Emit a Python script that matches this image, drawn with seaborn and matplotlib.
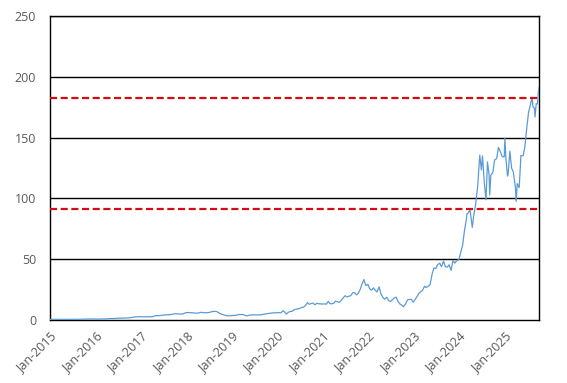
import matplotlib
matplotlib.use("Agg")
import matplotlib.pyplot as plt
import matplotlib.dates as mdates
import seaborn as sns
import pandas as pd

# ---- data (split-adjusted share price) ----
dates_monthly = pd.date_range("2015-01-01", "2019-12-01", freq="MS")
prices_monthly = [
    0.48, 0.55, 0.52, 0.55, 0.52, 0.50, 0.49, 0.56, 0.62, 0.70, 0.82, 0.82,
    0.73, 0.78, 0.89, 0.89, 1.17, 1.17, 1.43, 1.53, 1.71, 1.74, 2.33, 2.67,
    2.73, 2.52, 2.72, 2.60, 3.60, 3.61, 4.06, 4.23, 4.47, 5.17, 5.02, 4.84,
    6.14, 6.05, 5.79, 5.62, 6.31, 5.92, 6.12, 7.02, 7.03, 5.27, 4.09, 3.34,
    3.59, 3.85, 4.49, 4.52, 3.39, 4.11, 4.22, 4.19, 4.35, 5.03, 5.42, 5.88,
]

dates_recent = [
    "2020-01-01", "2020-01-15", "2020-02-01", "2020-02-19", "2020-03-01", "2020-03-16",
    "2020-04-01", "2020-04-15", "2020-05-01", "2020-05-15", "2020-06-01", "2020-06-15",
    "2020-07-01", "2020-07-15", "2020-08-01", "2020-08-15", "2020-09-02", "2020-09-15",
    "2020-10-01", "2020-10-15", "2020-11-01", "2020-11-15", "2020-12-01", "2020-12-15",
    "2021-01-01", "2021-01-15", "2021-02-01", "2021-02-16", "2021-03-01", "2021-03-15",
    "2021-04-01", "2021-04-15", "2021-05-01", "2021-05-15", "2021-06-01", "2021-06-15",
    "2021-07-01", "2021-07-15", "2021-08-01", "2021-08-15", "2021-09-01", "2021-09-15",
    "2021-10-01", "2021-10-15", "2021-11-01", "2021-11-15", "2021-11-29", "2021-12-15",
    "2022-01-01", "2022-01-15", "2022-02-01", "2022-02-15", "2022-03-01", "2022-03-15",
    "2022-04-01", "2022-04-15", "2022-05-01", "2022-05-15", "2022-06-01", "2022-06-15",
    "2022-07-01", "2022-07-15", "2022-08-01", "2022-08-15", "2022-09-01", "2022-09-15",
    "2022-10-01", "2022-10-13", "2022-11-01", "2022-11-15", "2022-12-01", "2022-12-15",
    "2023-01-01", "2023-01-15", "2023-02-01", "2023-02-15", "2023-03-01", "2023-03-15",
    "2023-04-01", "2023-04-15", "2023-05-01", "2023-05-15", "2023-06-01", "2023-06-15",
    "2023-07-01", "2023-07-15", "2023-08-01", "2023-08-15", "2023-09-01", "2023-09-15",
    "2023-10-01", "2023-10-15", "2023-11-01", "2023-11-15", "2023-12-01", "2023-12-15",
    "2024-01-01", "2024-01-15", "2024-02-01", "2024-02-15", "2024-03-01", "2024-03-08",
    "2024-03-15", "2024-04-01", "2024-04-19", "2024-05-01", "2024-05-15", "2024-06-01",
    "2024-06-18", "2024-07-01", "2024-07-10", "2024-07-25", "2024-08-07", "2024-08-19",
    "2024-09-01", "2024-09-06", "2024-09-15", "2024-10-01", "2024-10-15", "2024-11-01",
    "2024-11-15", "2024-12-01", "2024-12-15", "2025-01-01", "2025-01-06", "2025-01-15",
    "2025-01-27", "2025-02-01", "2025-02-15", "2025-03-01", "2025-03-15", "2025-04-01",
    "2025-04-07", "2025-04-15", "2025-05-01", "2025-05-15", "2025-06-01", "2025-06-15",
    "2025-07-01", "2025-07-15", "2025-08-01", "2025-08-12", "2025-08-20", "2025-09-01",
    "2025-09-05", "2025-09-15", "2025-09-25", "2025-10-01", "2025-10-09",
]
prices_recent = [
    5.9, 6.1, 5.9, 7.7, 6.7, 4.9,
    6.3, 7.0, 7.1, 8.3, 8.9, 9.1,
    9.5, 10.2, 10.6, 11.6, 14.3, 12.9,
    13.5, 13.9, 12.5, 13.7, 13.4, 13.3,
    13.1, 13.3, 13.0, 15.3, 13.6, 13.3,
    13.8, 15.5, 15.0, 14.5, 16.3, 18.0,
    20.0, 19.0, 19.5, 20.0, 22.4, 22.5,
    20.7, 21.9, 25.5, 29.9, 33.3, 28.3,
    29.4, 25.6, 24.5, 26.5, 24.4, 23.0,
    27.3, 21.7, 18.6, 17.1, 18.7, 16.0,
    15.2, 16.5, 18.2, 18.8, 15.1, 13.2,
    12.1, 10.9, 13.5, 16.6, 16.9, 17.0,
    14.6, 16.9, 19.5, 22.0, 23.2, 24.2,
    27.8, 26.7, 27.8, 28.9, 37.8, 42.7,
    42.3, 45.5, 46.7, 43.9, 48.5, 43.9,
    43.5, 45.4, 40.8, 48.9, 46.8, 48.9,
    49.5, 54.7, 61.5, 72.6, 82.2, 87.5,
    87.8, 90.4, 76.2, 86.4, 94.6, 109.6,
    135.6, 123.5, 134.9, 112.3, 98.9, 130.0,
    119.4, 102.8, 119.1, 121.4, 131.6, 132.8,
    141.9, 138.3, 134.3, 134.3, 149.4, 131.8,
    118.4, 120.1, 138.9, 124.9, 121.7, 108.4,
    97.6, 112.2, 108.9, 135.3, 135.1, 141.9,
    158.0, 170.7, 177.9, 183.2, 175.4, 174.2,
    167.0, 177.8, 177.7, 186.6, 192.0,
]

ref_high = 183.0
ref_half = 91.5

x_ticks = pd.date_range("2015-01-01", "2025-01-01", freq="YS")

df = pd.DataFrame({
    "date": list(dates_monthly) + list(pd.to_datetime(dates_recent)),
    "price": prices_monthly + prices_recent,
})

sns.set_style("white")
plt.rcParams["font.family"] = ["Open Sans", "DejaVu Sans"]

fig = plt.figure(figsize=(5.67, 3.83), dpi=100)
ax = fig.add_axes([0.088, 0.1645, 0.863, 0.7935])

for v in [50, 100, 150, 200, 250]:
    ax.axhline(v, color="black", lw=1.0, zorder=1)

sns.lineplot(data=df, x="date", y="price", ax=ax, color="#5B9BD5", lw=0.9, zorder=3)

for v in [ref_high, ref_half]:
    ax.axhline(v, color="#D01010", lw=1.6, ls=(0, (3.2, 1.6)), zorder=4)

ax.set_ylim(0, 250)
ax.set_yticks([0, 50, 100, 150, 200, 250])
ax.set_xlim(pd.Timestamp("2015-01-01"), pd.Timestamp("2025-10-09"))
ax.set_xticks(x_ticks)
ax.xaxis.set_major_formatter(mdates.DateFormatter("%b-%Y"))
ax.set_xlabel("")
ax.set_ylabel("")

for s in ["left", "bottom", "right", "top"]:
    ax.spines[s].set_visible(True)
    ax.spines[s].set_color("black")
    ax.spines[s].set_linewidth(1.0)

ax.tick_params(axis="both", which="major", direction="out", length=4,
               color="black", width=1.0, labelsize=9, labelcolor="#595959")
ax.tick_params(axis="x", pad=3)
ax.tick_params(axis="y", pad=6)
plt.setp(ax.get_xticklabels(), rotation=45, ha="right", rotation_mode="anchor")

fig.savefig("out.png", dpi=100)
